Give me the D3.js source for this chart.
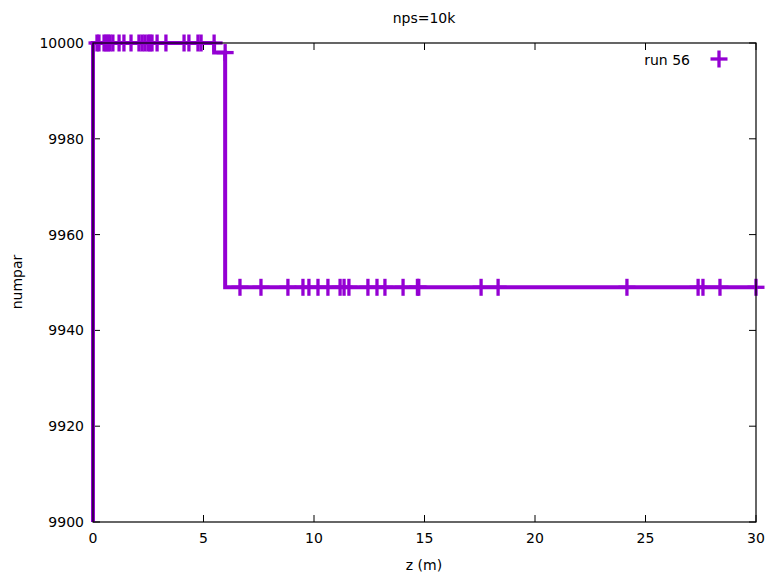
<!DOCTYPE html>
<html>
<head>
<meta charset="utf-8">
<script src="https://cdn.jsdelivr.net/npm/d3@7"></script>
<style>
  body { margin: 0; background: #fff; }
  text { font-family: "DejaVu Sans", sans-serif; font-size: 14px; fill: #000; }
</style>
</head>
<body>
<svg id="chart" width="772" height="580"></svg>
<script>
// run 56 : numpar vs z, drawn as fsteps plus + points
const zVals = [0, 0.18, 0.27, 0.50, 0.59, 0.68, 0.77, 0.90, 1.18, 1.40, 1.72, 2.08, 2.22, 2.35, 2.49, 2.58, 2.67, 2.90, 3.30,
  4.12, 4.34, 4.75, 4.89, 5.48, 5.98,
  6.65, 7.60, 8.82, 9.50, 9.77, 10.18, 10.63, 11.18, 11.36, 11.58, 12.44, 12.85, 13.21, 14.03, 14.68, 14.74,
  17.56, 18.33, 24.16, 27.38, 27.60, 28.37, 30.0];
const numpar = [0, 10000, 10000, 10000, 10000, 10000, 10000, 10000, 10000, 10000, 10000, 10000, 10000, 10000, 10000, 10000, 10000, 10000, 10000,
  10000, 10000, 10000, 10000, 10000, 9998,
  9949, 9949, 9949, 9949, 9949, 9949, 9949, 9949, 9949, 9949, 9949, 9949, 9949, 9949, 9949, 9949,
  9949, 9949, 9949, 9949, 9949, 9949, 9949];
const xTicks = [0, 5, 10, 15, 20, 25, 30];
const yTicks = [9900, 9920, 9940, 9960, 9980, 10000];

const color = '#9400d3';
const svg = d3.select('#chart');
const m = {left: 93, right: 756, top: 43, bottom: 522};

const x = d3.scaleLinear().domain([0, 30]).range([m.left, m.right]);
const y = d3.scaleLinear().domain([9900, 10000]).range([m.bottom, m.top]);

const pts = zVals.map((z, i) => [z, numpar[i]]);

// clip for the step line
svg.append('defs').append('clipPath').attr('id', 'clip')
  .append('rect').attr('x', m.left - 3).attr('y', m.top - 3)
  .attr('width', m.right - m.left + 14).attr('height', m.bottom - m.top + 3);

// axes (ticks inside, mirrored)
const tl = 7;
const axisG = svg.append('g');
xTicks.forEach(t => {
  axisG.append('line').attr('x1', x(t)).attr('x2', x(t)).attr('y1', m.bottom).attr('y2', m.bottom - tl).attr('stroke', '#000');
  axisG.append('line').attr('x1', x(t)).attr('x2', x(t)).attr('y1', m.top).attr('y2', m.top + tl).attr('stroke', '#000');
  axisG.append('text').attr('x', x(t)).attr('y', m.bottom + 21).attr('text-anchor', 'middle').text(t);
});
yTicks.forEach(t => {
  axisG.append('line').attr('x1', m.left).attr('x2', m.left + tl).attr('y1', y(t)).attr('y2', y(t)).attr('stroke', '#000');
  axisG.append('line').attr('x1', m.right).attr('x2', m.right - tl).attr('y1', y(t)).attr('y2', y(t)).attr('stroke', '#000');
  axisG.append('text').attr('x', m.left - 9).attr('y', y(t) + 5).attr('text-anchor', 'end').text(t);
});

// fsteps line
const line = d3.line().x(d => x(d[0])).y(d => y(d[1])).curve(d3.curveStepBefore);
svg.append('path')
  .datum(pts)
  .attr('clip-path', 'url(#clip)')
  .attr('fill', 'none')
  .attr('stroke', color)
  .attr('stroke-width', 4)
  .attr('d', line);

// + markers
const ms = 8.5;
const marks = svg.append('g').attr('stroke', color).attr('stroke-width', 3.3);
pts.filter(d => d[1] >= 9900).forEach(d => {
  const cx = x(d[0]), cy = y(d[1]);
  marks.append('line').attr('x1', cx - ms).attr('x2', cx + ms).attr('y1', cy).attr('y2', cy);
  marks.append('line').attr('x1', cx).attr('x2', cx).attr('y1', cy - ms).attr('y2', cy + ms);
});

// border
svg.append('rect').attr('x', m.left).attr('y', m.top)
  .attr('width', m.right - m.left).attr('height', m.bottom - m.top)
  .attr('fill', 'none').attr('stroke', '#000').attr('stroke-width', 1.2);

// legend
svg.append('text').attr('x', 690).attr('y', 65).attr('text-anchor', 'end').text('run 56');
const lg = svg.append('g').attr('stroke', color).attr('stroke-width', 3.3);
lg.append('line').attr('x1', 719 - ms).attr('x2', 719 + ms).attr('y1', 59).attr('y2', 59);
lg.append('line').attr('x1', 719).attr('x2', 719).attr('y1', 59 - ms).attr('y2', 59 + ms);

// titles
svg.append('text').attr('x', 424).attr('y', 23).attr('text-anchor', 'middle').text('nps=10k');
svg.append('text').attr('x', 424).attr('y', 570).attr('text-anchor', 'middle').text('z (m)');
svg.append('text').attr('transform', 'translate(22,282) rotate(-90)').attr('text-anchor', 'middle').text('numpar');
</script>
</body>
</html>
